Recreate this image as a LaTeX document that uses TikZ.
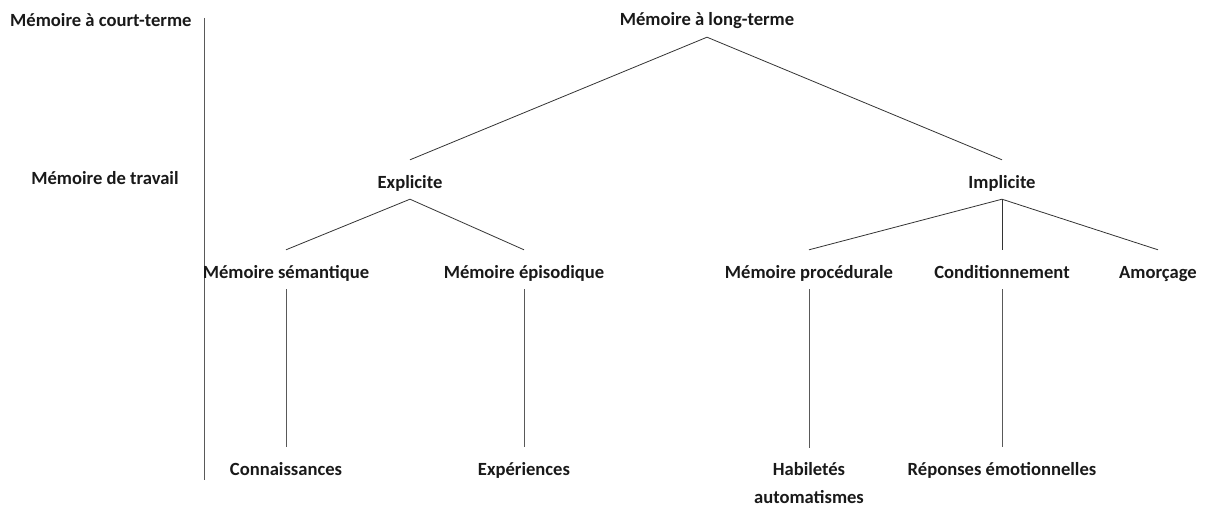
\documentclass[tikz,border=0pt]{standalone}
\usepackage{fontspec}
\setmainfont{Carlito}
\usetikzlibrary{positioning}

\tikzset{
    memlabel/.style = {font = \bfseries\fontsize{18.6}{28}\selectfont, text = black!90,
                       inner sep = 0pt, text height = 28pt, text depth = 11pt},
    branch/.style   = {black!80, line width = 0.8pt}
}

\begin{document}
\begin{tikzpicture}[x = 1pt, y = 1pt]

    \useasboundingbox (0,0) rectangle (1205,-508);

    %\draw[help lines, opacity = 0.2, step = 50] (0,0) grid (1205,-508);

    % left column: short term side
    \node (ST) at (10,-27) [memlabel, anchor = base west] {Mémoire à court-terme};
    \node (MT) at (105,-185) [memlabel, anchor = base] {Mémoire de travail};

    \coordinate (divtop) at (204,-18);
    \coordinate (divbot) at (204,-480);
    \draw[branch, black!65] (divtop) -- (divbot);

    % long term tree
    \node (LT) at (707,-26) [memlabel, anchor = base] {Mémoire à long-terme};

    \node (EX) at (410,-188) [memlabel, anchor = base] {Explicite};
    \node (IM) at (1002,-188) [memlabel, anchor = base] {Implicite};

    \node (MS) at (286,-278) [memlabel, anchor = base] {Mémoire sémantique};
    \node (ME) at (524,-278) [memlabel, anchor = base] {Mémoire épisodique};
    \node (MP) at (809,-278) [memlabel, anchor = base] {Mémoire procédurale};
    \node (CO) at (1002,-278) [memlabel, anchor = base] {Conditionnement};
    \node (AM) at (1158,-278) [memlabel, anchor = base] {Amorçage};

    \begin{scope}[on grid]
        \node (CN) [memlabel, below = 197 of MS] {Connaissances};
        \node (XP) [memlabel, below = 197 of ME] {Expériences};
        \node (RE) [memlabel, below = 197 of CO] {Réponses émotionnelles};
    \end{scope}
    % two lines: base is the last line
    \node (HA) at (809,-503) [memlabel, anchor = base, align = center, text height =, text depth =,
                              inner ysep = 14pt] {Habiletés\\automatismes};

    \draw[branch] (LT.south) -- (EX.north);
    \draw[branch] (LT.south) -- (IM.north);

    \draw[branch] (EX.south) -- (MS.north);
    \draw[branch] (EX.south) -- (ME.north);

    \draw[branch] (IM.south) -- (MP.north);
    \draw[branch] (IM.south) -- (CO.north);
    \draw[branch] (IM.south) -- (AM.north);

    \draw[branch, black!65] (MS.south) -- (CN.north);
    \draw[branch, black!65] (ME.south) -- (XP.north);
    \draw[branch, black!65] (MP.south) -- (HA.north);
    \draw[branch, black!65] (CO.south) -- (RE.north);

\end{tikzpicture}
\end{document}
